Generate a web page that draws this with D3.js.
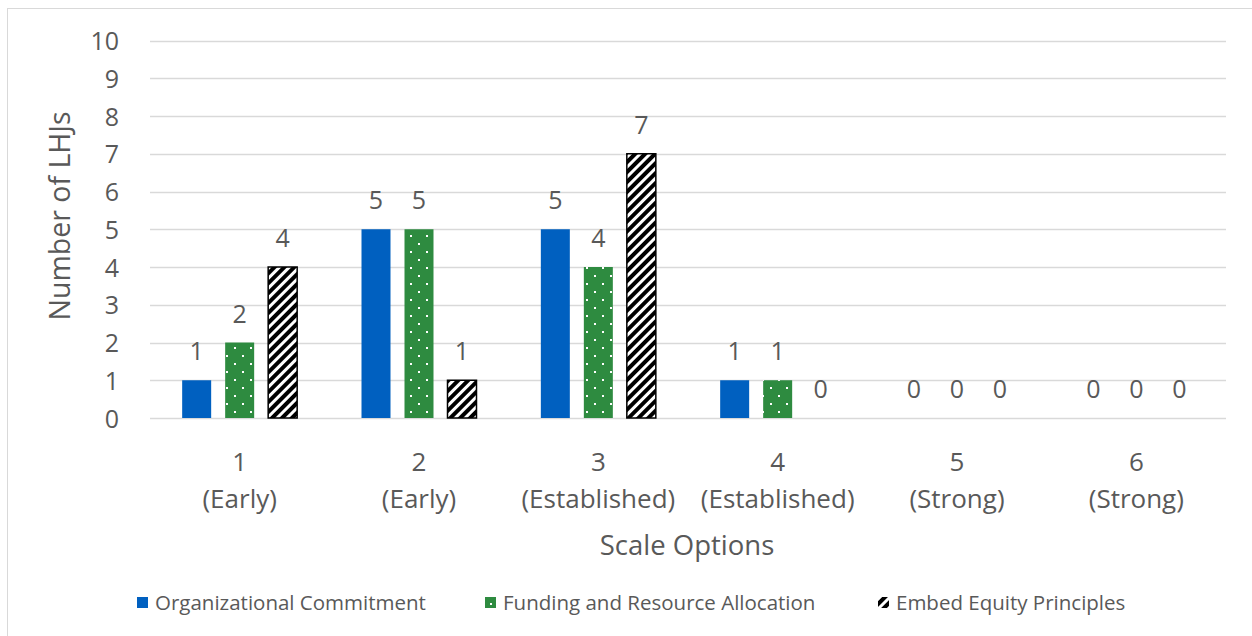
<!DOCTYPE html>
<html><head><meta charset="utf-8">
<script src="https://cdn.jsdelivr.net/npm/d3@7"></script>
<style>
html,body{margin:0;padding:0;background:#fff;}
text{font-family:"Open Sans",Lato,sans-serif;fill:#595959;}
</style></head>
<body>
<svg id="chart" width="1252" height="636"></svg>
<script>
const categories = ["1|(Early)", "2|(Early)", "3|(Established)", "4|(Established)", "5|(Strong)", "6|(Strong)"];
const seriesNames = ["Organizational Commitment", "Funding and Resource Allocation", "Embed Equity Principles"];
const orgCommitment = [1, 5, 5, 1, 0, 0];
const funding = [2, 5, 4, 1, 0, 0];
const equity = [4, 1, 7, 0, 0, 0];
const yTicks = [0,1,2,3,4,5,6,7,8,9,10];

(function(){
const series = [orgCommitment, funding, equity];
const svg = d3.select("#chart");
const defs = svg.append("defs");

const pd = defs.append("pattern").attr("id","dots").attr("patternUnits","userSpaceOnUse")
  .attr("width",16).attr("height",16);
pd.append("rect").attr("width",16).attr("height",16).attr("fill","#2E8B40");
pd.append("rect").attr("x",2).attr("y",3).attr("width",2).attr("height",2).attr("fill","#fff");
pd.append("rect").attr("x",10).attr("y",11).attr("width",2).attr("height",2).attr("fill","#fff");
const ph = defs.append("pattern").attr("id","hatch").attr("patternUnits","userSpaceOnUse")
  .attr("width",7).attr("height",7).attr("patternTransform","rotate(45)");
ph.append("rect").attr("width",7).attr("height",7).attr("fill","#000");
ph.append("rect").attr("width",3).attr("height",7).attr("fill","#fff");

const fills = ["#0060C0","url(#dots)","url(#hatch)"];
const strokes = ["none","none","#000"];

svg.append("rect").attr("x",7.5).attr("y",8.5).attr("width",1260).attr("height",640)
  .attr("fill","none").attr("stroke","#d9d9d9").attr("stroke-width",1);

const pLeft = 150, pRight = 1226, pTop = 40.5, pBottom = 418;
const x0 = d3.scaleBand().domain(categories).range([pLeft,pRight]).paddingInner(0).paddingOuter(0);
const y = d3.scaleLinear().domain([0,10]).range([pBottom, pTop]);

svg.append("g").selectAll("line").data(yTicks).join("line")
  .attr("x1",pLeft).attr("x2",pRight)
  .attr("y1",d=>Math.round(y(d))+0.5).attr("y2",d=>Math.round(y(d))+0.5)
  .attr("stroke","#d9d9d9").attr("stroke-width",1.3);

const yAxis = d3.axisLeft(y).tickValues(yTicks).tickSize(0).tickPadding(0);
const yg = svg.append("g").attr("transform",`translate(${pLeft-31},0)`).call(yAxis);
yg.select(".domain").remove();
yg.selectAll("text").attr("font-size",25).attr("fill","#595959").attr("dy","0.36em")
  .style("font-family","'Open Sans',Lato,sans-serif");

const barW = 29, step = 43;
const g = svg.append("g");
categories.forEach((c,i)=>{
  const cx = x0(c) + x0.bandwidth()/2;
  series.forEach((s,j)=>{
    const bx = cx + (j-1)*step - barW/2;
    const v = s[i];
    if(v>0){
      g.append("rect").attr("x",bx).attr("y",y(v)).attr("width",barW).attr("height",y(0)-y(v))
        .attr("fill",fills[j]).attr("stroke",strokes[j]).attr("stroke-width",strokes[j]==="none"?0:1.5);
    }
    g.append("text").attr("x",bx+barW/2).attr("y",y(v)-20).attr("text-anchor","middle")
      .attr("font-size",25).text(v);
  });
});

const xg = svg.append("g");
categories.forEach(c=>{
  const cx = x0(c) + x0.bandwidth()/2;
  const parts = c.split("|");
  xg.append("text").attr("x",cx).attr("y",471).attr("text-anchor","middle").attr("font-size",26).text(parts[0]);
  xg.append("text").attr("x",cx).attr("y",508).attr("text-anchor","middle").attr("font-size",26).text(parts[1]);
});

svg.append("text").attr("x",(pLeft+pRight)/2 - 1).attr("y",555).attr("text-anchor","middle")
  .attr("font-size",27.5).text("Scale Options");
svg.append("text").attr("transform",`translate(70,216) rotate(-90)`).attr("text-anchor","middle")
  .attr("font-size",28.5).text("Number of LHJs");

const legX = [137, 485, 878];
const lg = svg.append("g");
seriesNames.forEach((n,j)=>{
  lg.append("rect").attr("x",legX[j]).attr("y",597).attr("width",11).attr("height",11)
    .attr("fill",fills[j]);
  lg.append("text").attr("x",legX[j]+18).attr("y",610).attr("font-size",20.5).text(n);
});
})();
</script>
</body></html>
